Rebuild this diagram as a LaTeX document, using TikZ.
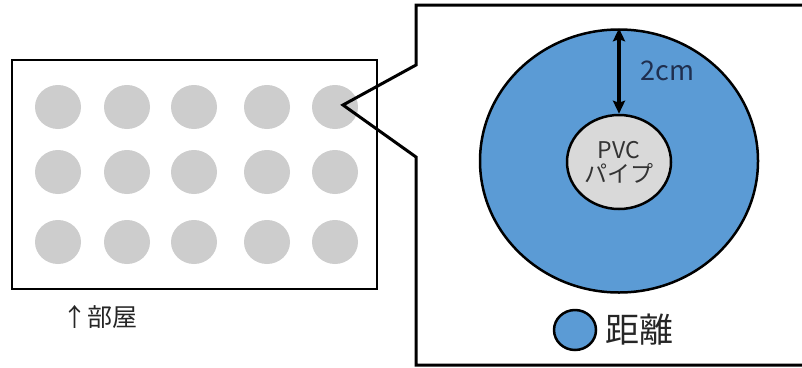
\documentclass[tikz,border=0pt]{standalone}
\usepackage{fontspec}
\setmainfont{Noto Sans CJK JP}
\usetikzlibrary{shapes.geometric, arrows.meta, positioning}
\definecolor{pipegray}{HTML}{CDCDCD}
\definecolor{pvcgray}{HTML}{D9D9D9}
\definecolor{zoneblue}{HTML}{5B9BD5}
\definecolor{dimnavy}{HTML}{1F2F4F}

\begin{document}
\begin{tikzpicture}[x=1pt, y=-1pt,
    pipe/.style={ellipse, fill=pipegray, minimum width=46pt, minimum height=44pt, inner sep=0pt},
    zone/.style={ellipse, draw=black, line width=2.5pt, fill=zoneblue, inner sep=0pt},
    pvc/.style={ellipse, draw=black, line width=2.5pt, fill=pvcgray, minimum width=104pt, minimum height=94pt, inner sep=0pt, align=center, text=black!80, font=\fontsize{23}{24}\selectfont},
    dimarrow/.style={{Stealth[length=13pt, width=12pt, inset=2pt]}-{Stealth[length=13pt, width=12pt, inset=2pt]}, line width=3.5pt},
    callout/.style={draw=black, line width=3pt, line join=miter}
]
\useasboundingbox (0,0) rectangle (802,367);

% room with pipes
\node (room) [draw=black, line width=2pt, minimum width=365pt, minimum height=229pt, inner sep=0pt] at (194.5,174.5) {};
\foreach \x [count=\i] in {58,127,194,267,335}
  \foreach \y [count=\j] in {107,172,242}
    \node (p\j\i) [pipe] at (\x,\y) {};
\node (roomlabel) [text=black!85, font=\fontsize{25}{25}\selectfont, inner sep=0pt] at (100,317) {↑部屋};

% zoomed view
\coordinate (tip) at (343,105);
\draw[callout] (810,5) -- (416,5) -- (416,65) -- (tip) -- (416,157) -- (416,365) -- (810,365);

\node (zone) [zone, minimum width=278pt, minimum height=263pt] at (619,161) {};
\node (pvc) [pvc] at (619,162) {PVC\\パイプ};
\draw[dimarrow] (zone.north) -- (pvc.north)
  node[midway, right=20pt, inner sep=0pt, text=dimnavy, font=\fontsize{27}{27}\selectfont] (dist) {2cm};

% legend
\node (legend) [zone, minimum width=42pt, minimum height=40pt] at (575,330) {};
\node (legendlabel) [right=8pt of legend, inner sep=0pt, text=black!85, font=\fontsize{34}{34}\selectfont] {距離};

\end{tikzpicture}
\end{document}
